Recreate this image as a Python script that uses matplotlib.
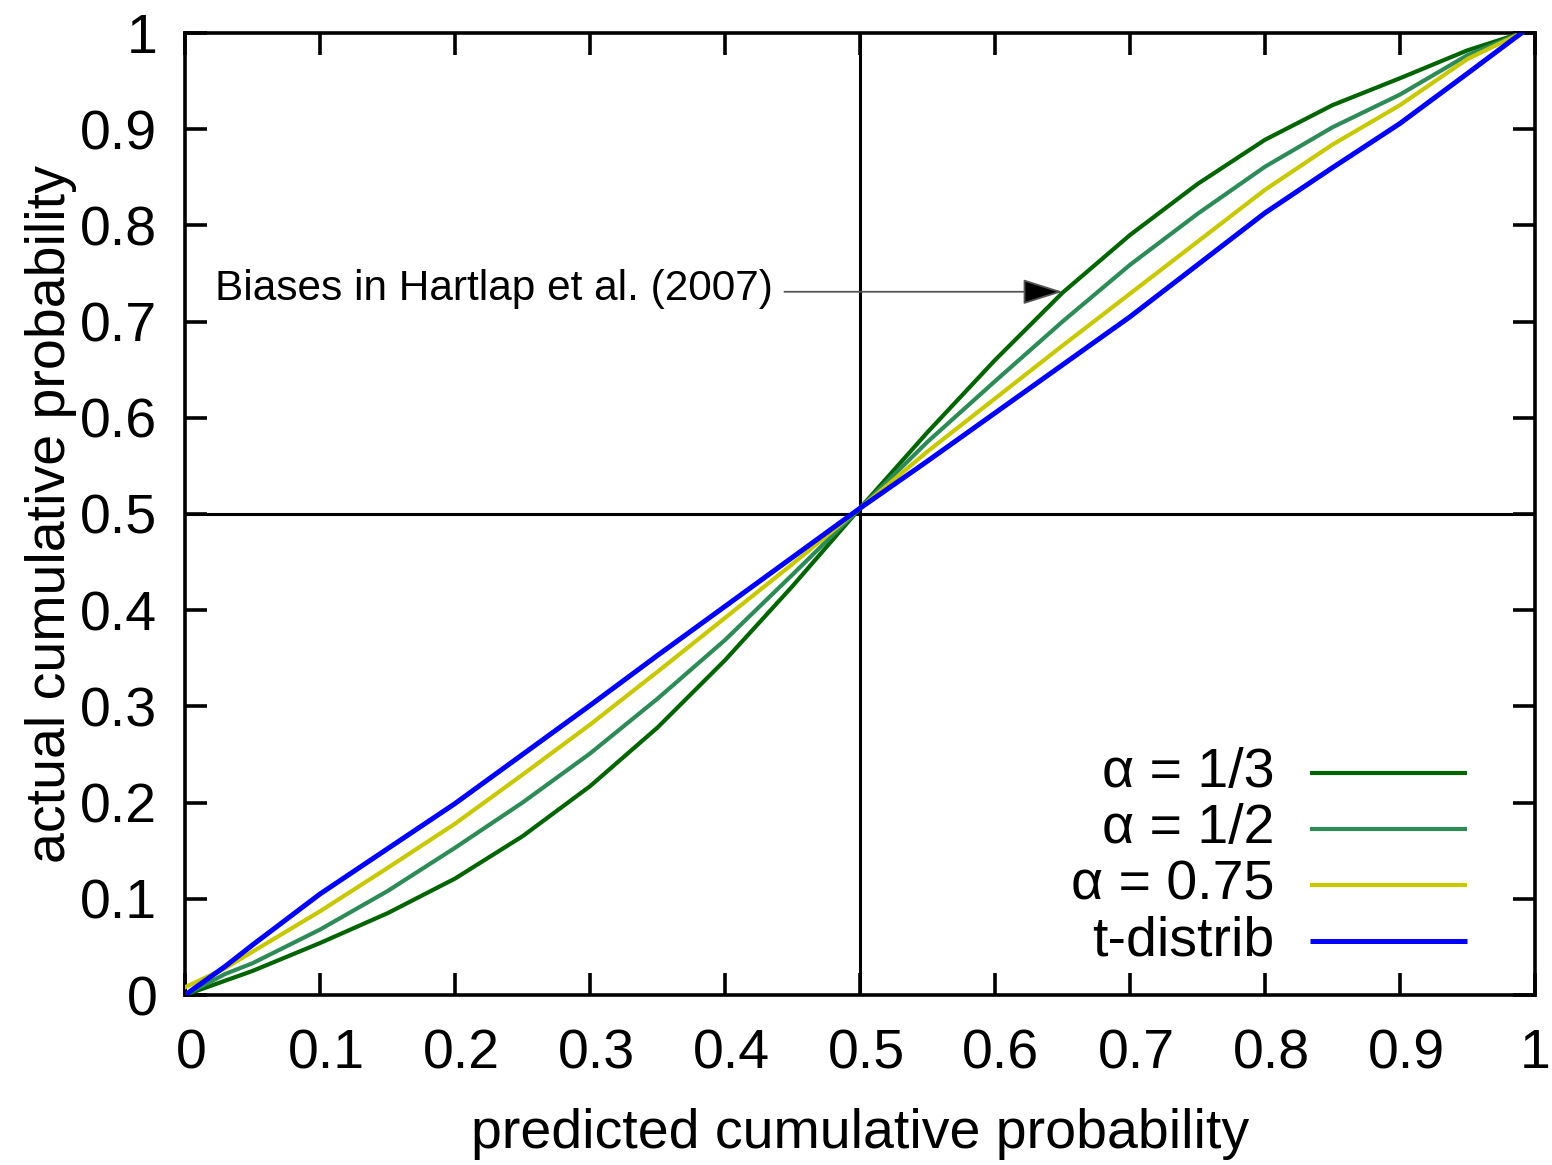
import matplotlib
matplotlib.use("Agg")
import matplotlib.pyplot as plt
import matplotlib.transforms as mtransforms

plt.rcParams['font.family'] = ['Liberation Sans', 'DejaVu Sans']

# ---- data ----
x_pred = [0.0, 0.03, 0.05, 0.1, 0.15, 0.2, 0.25, 0.3, 0.35, 0.4, 0.45, 0.5,
          0.55, 0.6, 0.65, 0.7, 0.75, 0.8, 0.85, 0.9, 0.95, 0.99]
alpha_13 = [0.0, 0.015, 0.025, 0.054, 0.085, 0.121, 0.165, 0.217, 0.278, 0.348, 0.425, 0.506,
            0.585, 0.660, 0.730, 0.790, 0.843, 0.889, 0.925, 0.953, 0.982, 1.0]
alpha_12 = [0.0, 0.022, 0.033, 0.068, 0.108, 0.153, 0.200, 0.251, 0.308, 0.369, 0.437, 0.506,
            0.575, 0.638, 0.700, 0.759, 0.812, 0.861, 0.902, 0.936, 0.977, 1.0]
alpha_075 = [0.008, 0.028, 0.045, 0.087, 0.132, 0.178, 0.229, 0.281, 0.336, 0.392, 0.448, 0.506,
             0.565, 0.620, 0.675, 0.729, 0.783, 0.837, 0.884, 0.925, 0.973, 1.0]
t_distrib = [0.0, 0.030, 0.052, 0.105, 0.152, 0.199, 0.250, 0.301, 0.353, 0.404, 0.455, 0.506,
             0.555, 0.605, 0.655, 0.705, 0.759, 0.813, 0.860, 0.906, 0.958, 1.0]

series_labels = ["α = 1/3", "α = 1/2", "α = 0.75", "t-distrib"]
series_values = [alpha_13, alpha_12, alpha_075, t_distrib]
series_colors = ['#006400', '#2e8b57', '#c8c800', '#0000ff']
series_widths = [3.0, 3.0, 3.0, 3.6]

tick_values = [0, 0.1, 0.2, 0.3, 0.4, 0.5, 0.6, 0.7, 0.8, 0.9, 1]
tick_labels = ["0", "0.1", "0.2", "0.3", "0.4", "0.5", "0.6", "0.7", "0.8", "0.9", "1"]

annotation_text = "Biases in Hartlap et al. (2007)"
annotation_xy = (0.65, 0.731)
annotation_text_xy = (0.022, 0.734)
arrow_start = (0.444, 0.731)

# ---- figure ----
W, H = 1552, 1165
fig = plt.figure(figsize=(W / 100, H / 100), dpi=100)
ax = fig.add_axes([185 / W, (H - 995) / H, 1350 / W, 962 / H])

ax.axvline(0.5, color='black', lw=2.2, zorder=1)
ax.axhline(0.5, color='black', lw=2.2, zorder=1)

for vals, col, lw in zip(series_values, series_colors, series_widths):
    ax.plot(x_pred, vals, color=col, lw=lw, zorder=3, solid_joinstyle='round')

ax.set_xlim(0, 1)
ax.set_ylim(0, 1)
ax.set_xticks(tick_values)
ax.set_xticklabels(tick_labels)
ax.set_yticks(tick_values)
ax.set_yticklabels(tick_labels)
ax.tick_params(direction='in', length=16, width=2.6, top=True, right=True,
               labelsize=40, pad=20, colors='black')
ax.tick_params(axis='x', pad=24)
for s in ax.spines.values():
    s.set_linewidth(2.6)

# gnuplot places x tick labels slightly to the right of the tick
offset = mtransforms.ScaledTranslation(6 / 100, 0, fig.dpi_scale_trans)
for lbl in ax.get_xticklabels()[:-1]:
    lbl.set_transform(lbl.get_transform() + offset)

ax.set_xlabel("predicted cumulative probability", fontsize=40, labelpad=20)
ax.set_ylabel("actual cumulative probability", fontsize=40, labelpad=2)

# annotation
ax.text(annotation_text_xy[0], annotation_text_xy[1], annotation_text,
        fontsize=30.5, ha='left', va='center', zorder=4)
ax.annotate('', xy=annotation_xy, xytext=arrow_start,
            arrowprops=dict(arrowstyle='-|>,head_length=1.26,head_width=0.4',
                            mutation_scale=20, fc='black', ec='#555555', lw=1.3,
                            shrinkA=0, shrinkB=0), zorder=4)

# gnuplot-style key: text right-aligned left of the sample line
key_y = [0.2308, 0.1726, 0.1143, 0.0561]
for lab, col, lw, yk in zip(series_labels, series_colors, series_widths, key_y):
    ax.plot([0.8333, 0.9496], [yk, yk], color=col, lw=lw, transform=ax.transAxes,
            solid_capstyle='butt')
    ax.text(0.807, yk, lab, transform=ax.transAxes, ha='right', va='center',
            fontsize=40)

fig.savefig("out.png", dpi=100)
